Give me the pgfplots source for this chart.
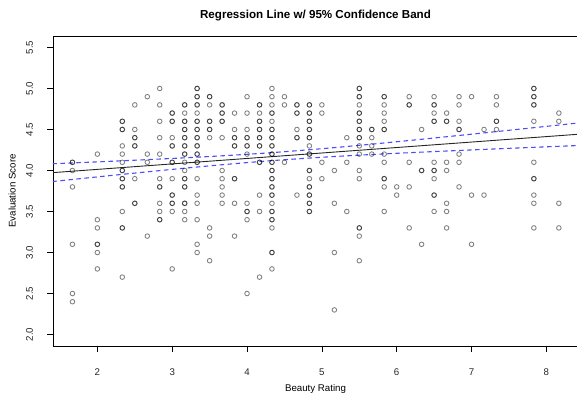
\documentclass[border=0pt]{standalone}
\usepackage{pgfplots}
\pgfplotsset{compat=1.18}
\usepackage{fontspec}
\setmainfont{Liberation Sans}
\definecolor{bandblue}{rgb}{0.30,0.30,1.0}
\begin{document}
\begin{tikzpicture}
\begin{axis}[
  at={(0,0)}, anchor=south west,
  scale only axis, width=525pt, height=310pt,
  xmin=1.407, xmax=8.423, ymin=1.86, ymax=5.64,
  xtick={2,3,4,5,6,7,8},
  ytick={2,2.5,3,3.5,4,4.5,5,5.5},
  yticklabels={2.0,2.5,3.0,3.5,4.0,4.5,5.0,5.5},
  xtick pos=bottom, ytick pos=left,
  tick align=outside, major tick length=6pt,
  tick style={black, line width=0.6pt},
  axis line style={black, line width=0.8pt},
  /pgf/number format/assume math mode=true,
  ticklabel style={font=\fontsize{9.7}{11}\selectfont, text=black!85},
  xticklabel style={anchor=base, yshift=-23pt},
  yticklabel style={xshift=-14pt, rotate=90, anchor=base},
  every axis title/.style={at={(rel axis cs:0.5,1)}, yshift=17.8pt, anchor=base, font=\bfseries\fontsize{11.6}{13}\selectfont},
  every axis x label/.style={at={(rel axis cs:0.5,0)}, yshift=-45.5pt, anchor=base, font=\fontsize{9.7}{11}\selectfont},
  every axis y label/.style={at={(rel axis cs:0,0.5)}, xshift=-37.4pt, rotate=90, anchor=base, font=\fontsize{9.7}{11}\selectfont},
  title={Regression Line w/ 95\% Confidence Band},
  xlabel={Beauty Rating},
  ylabel={Evaluation Score},
  clip=true,
]
\addplot[only marks, mark=o, mark size=2.3pt, black, draw opacity=0.5, mark options={line width=0.85pt, draw=black, draw opacity=0.5}] table {
x y
1.667 4.1
1.667 4.1
1.667 4.0
1.667 3.8
1.667 3.1
1.667 2.5
1.667 2.4
2 4.2
2 3.4
2 3.3
2 3.1
2 3.1
2 3.0
2 2.8
2.333 4.6
2.333 4.6
2.333 4.5
2.333 4.5
2.333 4.3
2.333 4.2
2.333 4.1
2.333 4.0
2.333 4.0
2.333 3.9
2.333 3.9
2.333 3.8
2.333 3.8
2.333 3.5
2.333 3.3
2.333 3.3
2.333 2.7
2.5 4.8
2.5 4.5
2.5 4.4
2.5 4.4
2.5 4.3
2.5 4.3
2.5 3.9
2.5 3.6
2.5 3.6
2.667 4.9
2.667 4.2
2.667 4.1
2.667 3.2
2.833 5.0
2.833 4.8
2.833 4.6
2.833 4.4
2.833 4.2
2.833 3.9
2.833 3.8
2.833 3.8
2.833 3.6
2.833 3.5
2.833 3.4
2.833 3.4
3 4.7
3 4.7
3 4.6
3 4.6
3 4.4
3 4.3
3 4.3
3 4.1
3 4.1
3 3.9
3 3.7
3 3.7
3 3.6
3 3.6
3 3.5
3 2.8
3.167 4.8
3.167 4.8
3.167 4.7
3.167 4.6
3.167 4.6
3.167 4.5
3.167 4.5
3.167 4.4
3.167 4.4
3.167 4.3
3.167 4.3
3.167 4.2
3.167 4.2
3.167 4.1
3.167 4.0
3.167 3.9
3.167 3.9
3.167 3.8
3.167 3.8
3.167 3.6
3.167 3.6
3.167 3.5
3.167 3.4
3.333 5.0
3.333 5.0
3.333 4.9
3.333 4.9
3.333 4.8
3.333 4.8
3.333 4.7
3.333 4.6
3.333 4.6
3.333 4.5
3.333 4.5
3.333 4.4
3.333 4.4
3.333 4.3
3.333 4.3
3.333 4.2
3.333 4.2
3.333 4.1
3.333 4.1
3.333 3.9
3.333 3.7
3.333 3.6
3.333 3.4
3.333 3.1
3.333 3.0
3.5 4.9
3.5 4.9
3.5 4.8
3.5 4.6
3.5 4.6
3.5 4.5
3.5 4.5
3.5 4.4
3.5 3.3
3.5 3.2
3.5 2.9
3.667 4.8
3.667 4.8
3.667 4.7
3.667 4.7
3.667 4.6
3.667 4.6
3.667 4.4
3.667 4.0
3.667 3.9
3.667 3.8
3.667 3.7
3.667 3.6
3.833 4.7
3.833 4.5
3.833 4.4
3.833 4.4
3.833 4.3
3.833 4.3
3.833 3.9
3.833 3.9
3.833 3.6
3.833 3.2
4 4.9
4 4.7
4 4.5
4 4.4
4 4.4
4 4.3
4 4.3
4 4.2
4 3.6
4 3.5
4 3.5
4 3.4
4 2.5
4.167 4.8
4.167 4.8
4.167 4.7
4.167 4.6
4.167 4.6
4.167 4.5
4.167 4.5
4.167 4.4
4.167 4.4
4.167 4.3
4.167 4.3
4.167 4.1
4.167 4.1
4.167 3.7
4.167 3.5
4.167 2.7
4.333 5.0
4.333 4.9
4.333 4.8
4.333 4.7
4.333 4.7
4.333 4.6
4.333 4.5
4.333 4.5
4.333 4.4
4.333 4.4
4.333 4.3
4.333 4.3
4.333 4.2
4.333 4.2
4.333 4.1
4.333 4.1
4.333 4.0
4.333 4.0
4.333 3.9
4.333 3.9
4.333 3.8
4.333 3.8
4.333 3.7
4.333 3.7
4.333 3.6
4.333 3.5
4.333 3.5
4.333 3.4
4.333 3.4
4.333 3.3
4.333 3.0
4.333 3.0
4.333 2.8
4.5 4.9
4.5 4.8
4.5 4.1
4.667 4.8
4.667 4.8
4.667 4.7
4.667 4.7
4.667 4.5
4.667 4.4
4.667 4.4
4.667 3.7
4.833 4.8
4.833 4.8
4.833 4.7
4.833 4.7
4.833 4.6
4.833 4.6
4.833 4.5
4.833 4.5
4.833 4.4
4.833 4.4
4.833 4.3
4.833 4.2
4.833 4.2
4.833 4.0
4.833 4.0
4.833 3.9
4.833 3.8
4.833 3.8
4.833 3.7
4.833 3.7
4.833 3.6
4.833 3.6
4.833 3.5
4.833 3.5
5 4.8
5 4.7
5 4.1
5 3.9
5.167 4.0
5.167 3.6
5.167 3.0
5.167 2.3
5.333 4.4
5.333 4.1
5.333 3.5
5.5 5.0
5.5 5.0
5.5 4.9
5.5 4.9
5.5 4.8
5.5 4.7
5.5 4.7
5.5 4.6
5.5 4.6
5.5 4.5
5.5 4.5
5.5 4.4
5.5 4.4
5.5 4.3
5.5 4.2
5.5 4.0
5.5 3.9
5.5 3.3
5.5 3.3
5.5 3.2
5.5 2.9
5.667 4.5
5.667 4.5
5.667 4.4
5.667 4.3
5.667 4.2
5.833 4.9
5.833 4.9
5.833 4.8
5.833 4.7
5.833 4.6
5.833 4.5
5.833 4.5
5.833 4.2
5.833 4.1
5.833 3.9
5.833 3.9
5.833 3.8
5.833 3.5
6 3.8
6 3.7
6.167 4.9
6.167 4.8
6.167 4.8
6.167 4.1
6.167 3.8
6.167 3.3
6.333 4.5
6.333 4.0
6.333 4.0
6.333 3.1
6.5 4.9
6.5 4.8
6.5 4.8
6.5 4.7
6.5 4.6
6.5 4.6
6.5 4.1
6.5 4.0
6.5 4.0
6.5 3.9
6.5 3.7
6.5 3.7
6.5 3.5
6.667 4.7
6.667 4.6
6.667 4.6
6.667 4.1
6.667 4.0
6.667 3.6
6.667 3.5
6.667 3.3
6.833 4.9
6.833 4.8
6.833 4.6
6.833 4.5
6.833 4.5
6.833 4.2
6.833 4.1
6.833 3.8
7 4.9
7 3.7
7 3.1
7.167 4.5
7.167 3.7
7.333 4.9
7.333 4.8
7.333 4.6
7.333 4.6
7.333 4.5
7.833 5.0
7.833 5.0
7.833 4.9
7.833 4.9
7.833 4.8
7.833 4.8
7.833 4.6
7.833 4.1
7.833 3.9
7.833 3.9
7.833 3.7
7.833 3.6
7.833 3.3
8.167 4.7
8.167 4.6
8.167 3.6
8.167 3.3
};
\addplot[black!85, line width=0.9pt] coordinates {(1.407,3.9741) (8.423,4.4416)};
\addplot[bandblue, line width=1.1pt, dash pattern=on 4.5pt off 3.5pt, smooth] coordinates {
(1.4,4.0819) (2,4.1052) (2.5,4.1254) (3,4.1470) (3.5,4.1706) (4,4.1975) (4.418,4.2236) (5,4.2658) (5.5,4.3067) (6,4.3506) (6.5,4.3962) (7,4.4429) (7.5,4.4903) (8,4.5381) (8.43,4.5796)};
\addplot[bandblue, line width=1.1pt, dash pattern=on 4.5pt off 3.5pt, smooth] coordinates {
(1.4,3.8654) (2,3.9221) (2.5,3.9685) (3,4.0136) (3.5,4.0566) (4,4.0963) (4.418,4.1259) (5,4.1613) (5.5,4.1870) (6,4.2098) (6.5,4.2309) (7,4.2508) (7.5,4.2700) (8,4.2888) (8.43,4.3047)};
\end{axis}
\pgfresetboundingbox
\useasboundingbox (-53pt,-48pt) rectangle (524pt,346pt);
\end{tikzpicture}
\end{document}
